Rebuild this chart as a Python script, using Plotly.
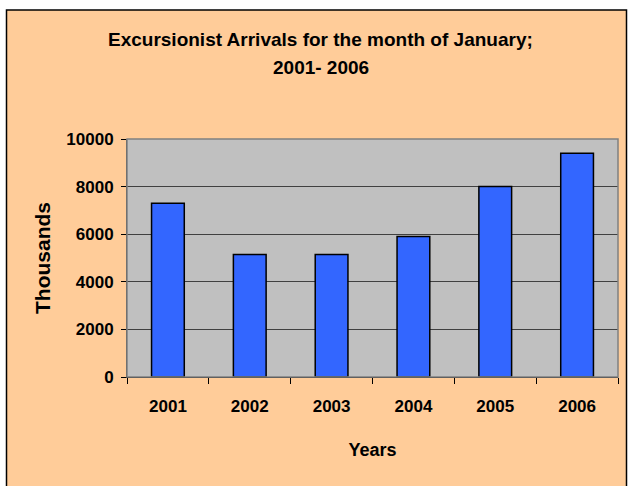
import plotly.graph_objects as go

years = ["2001", "2002", "2003", "2004", "2005", "2006"]
arrivals = [7300, 5150, 5150, 5900, 8000, 9400]
y_ticks = [0, 2000, 4000, 6000, 8000, 10000]
y_tick_labels = ["0", "2000", "4000", "6000", "8000", "10000"]

title_line1 = "Excursionist Arrivals for the month of January;"
title_line2 = "2001- 2006"

FONT = "Liberation Sans, Arial, sans-serif"

fig = go.Figure()
fig.add_trace(go.Bar(
    x=years, y=arrivals,
    marker=dict(color="#3366FF", line=dict(color="#000000", width=1.5)),
    width=0.4,
    hoverinfo="skip",
))

W, H = 628, 486
L, R, T, B = 127, 10, 139, 109
pw, ph = W - L - R, H - T - B

def px2x(px):
    return (px - L) / pw

def py2y(py):
    return (H - B - py) / ph

fig.update_layout(
    width=W, height=H,
    margin=dict(l=L, r=R, t=T, b=B, autoexpand=False),
    paper_bgcolor="#FFFFFF",
    plot_bgcolor="#C0C0C0",
    showlegend=False,
    font=dict(family=FONT, color="#000000"),
    xaxis=dict(
        type="category",
        tickson="boundaries",
        ticks="outside", ticklen=6, tickcolor="#000000",
        showline=True, linecolor="#000000", linewidth=1,
        showgrid=False,
        ticklabelstandoff=14,
        tickfont=dict(size=17, family=FONT, weight="bold"),
        title=dict(text="<b>Years</b>", font=dict(size=18), standoff=27),
    ),
    yaxis=dict(
        range=[0, 10000],
        tickvals=y_ticks,
        ticktext=y_tick_labels,
        ticks="outside", ticklen=5, tickcolor="#000000",
        showline=True, linecolor="#404040", linewidth=1,
        showgrid=True, gridcolor="#404040", gridwidth=1,
        zeroline=False,
        ticklabelstandoff=4,
        tickfont=dict(size=17, family=FONT, weight="bold"),
        title=dict(text="<b>Thousands</b>", font=dict(size=21), standoff=9),
    ),
    shapes=[
        dict(type="rect", xref="paper", yref="paper",
             x0=px2x(6.5), x1=px2x(626.5), y0=py2y(490), y1=py2y(10),
             fillcolor="#FFCC99", line=dict(color="#000000", width=1.5),
             layer="below"),
        dict(type="rect", xref="paper", yref="paper",
             x0=0, x1=1, y0=0, y1=1,
             fillcolor="#C0C0C0", line=dict(width=0),
             layer="below"),
        dict(type="rect", xref="paper", yref="paper",
             x0=0, x1=1, y0=0, y1=1,
             fillcolor="rgba(0,0,0,0)", line=dict(color="#808080", width=1.5),
             layer="above"),
    ],
    annotations=[
        dict(text="<b>" + title_line1 + "</b>", xref="paper", yref="paper",
             x=px2x(320.5), y=py2y(40), showarrow=False,
             font=dict(size=19), xanchor="center", yanchor="middle"),
        dict(text="<b>" + title_line2 + "</b>", xref="paper", yref="paper",
             x=px2x(320.5), y=py2y(68), showarrow=False,
             font=dict(size=19), xanchor="center", yanchor="middle"),
    ],
)

fig.write_html("out.html", config={"displayModeBar": False},
               post_script="document.body.style.margin='0px';")
